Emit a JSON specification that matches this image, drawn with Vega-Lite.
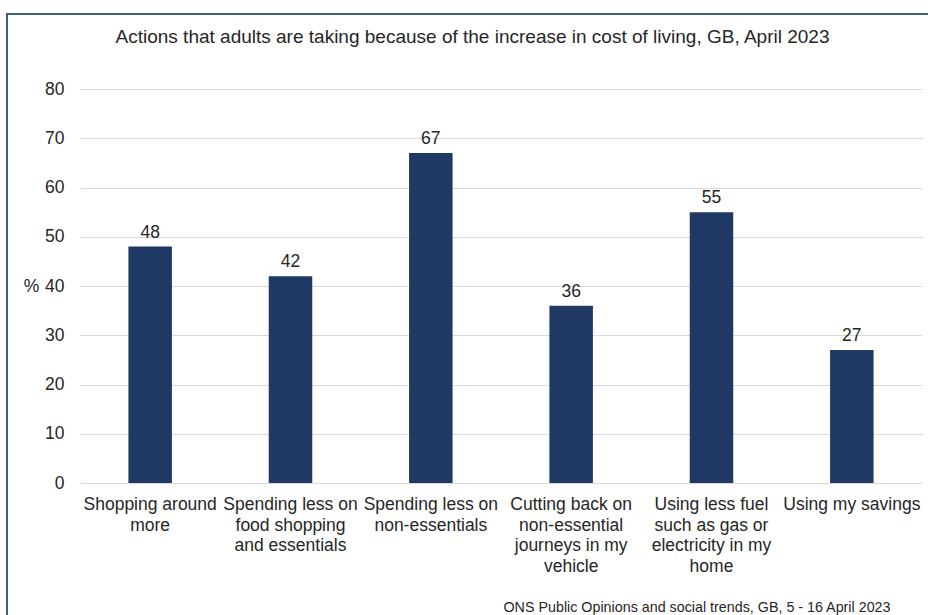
{
  "$schema": "https://vega.github.io/schema/vega-lite/v6.json",
  "autosize": {"type": "none"},
  "padding": {"left": 7, "top": 14, "right": -4, "bottom": -4},
  "width": 925,
  "height": 605,
  "background": "white",
  "config": {
    "font": "Liberation Sans",
    "view": {"stroke": "#3E5F7E", "strokeWidth": 2}
  },
  "title": {
    "text": "Actions that adults are taking because of the increase in cost of living, GB, April 2023",
    "fontSize": 19,
    "fontWeight": "normal",
    "color": "#262626",
    "anchor": "middle",
    "frame": "group",
    "offset": -33,
    "dx": 3
  },
  "data": {
    "values": [
      {"action": "Shopping around\nmore", "pct": 48},
      {"action": "Spending less on\nfood shopping\nand essentials", "pct": 42},
      {"action": "Spending less on\nnon-essentials", "pct": 67},
      {"action": "Cutting back on\nnon-essential\njourneys in my\nvehicle", "pct": 36},
      {"action": "Using less fuel\nsuch as gas or\nelectricity in my\nhome", "pct": 55},
      {"action": "Using my savings", "pct": 27}
    ]
  },
  "encoding": {
    "x": {
      "field": "action",
      "type": "nominal",
      "sort": null,
      "scale": {"range": [73, 915], "paddingInner": 0.69, "paddingOuter": 0.345},
      "axis": {
        "offset": -136,
        "labelAngle": 0,
        "labelExpr": "split(datum.label, '\\n')",
        "labelFontSize": 17.5,
        "labelLineHeight": 20.7,
        "labelPadding": 12.5,
        "labelLimit": 300,
        "labelColor": "#262626",
        "ticks": false,
        "tickSize": 0,
        "domain": false,
        "grid": false,
        "title": "ONS Public Opinions and social trends, GB, 5 - 16 April 2023",
        "titleFontSize": 14.3,
        "titleFontWeight": "normal",
        "titleColor": "#262626",
        "titleX": 883,
        "titleY": 124,
        "titleAlign": "right",
        "titleBaseline": "middle",
        "titleAngle": 0
      }
    },
    "y": {
      "field": "pct",
      "type": "quantitative",
      "scale": {"domain": [0, 80], "range": [469, 75], "nice": false},
      "axis": {
        "offset": -73,
        "values": [0, 10, 20, 30, 40, 50, 60, 70, 80],
        "grid": true,
        "gridColor": "#D9D9D9",
        "gridWidth": 1,
        "domain": false,
        "ticks": false,
        "tickSize": 0,
        "labelPadding": 16,
        "labelFontSize": 17.5,
        "labelColor": "#262626",
        "title": "%",
        "titleAngle": 0,
        "titleX": -49,
        "titleY": 272,
        "titleAlign": "center",
        "titleBaseline": "middle",
        "titleFontSize": 17.5,
        "titleFontWeight": "normal",
        "titleColor": "#262626"
      }
    }
  },
  "layer": [
    {"mark": {"type": "bar", "color": "#203864"}},
    {
      "mark": {"type": "text", "baseline": "alphabetic", "dy": -9, "fontSize": 17.5, "color": "#262626"},
      "encoding": {"text": {"field": "pct", "type": "quantitative"}}
    }
  ]
}
